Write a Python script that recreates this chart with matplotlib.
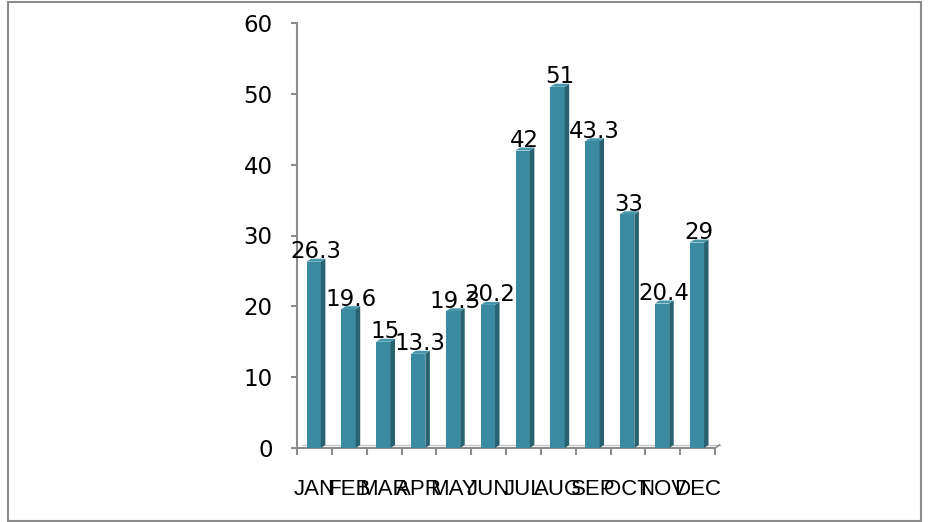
import numpy as np
import matplotlib
matplotlib.use("Agg")
from matplotlib import pyplot as plt
from matplotlib import font_manager
from matplotlib.patches import Polygon, Rectangle

months = ["JAN", "FEB", "MAR", "APR", "MAY", "JUN", "JUL", "AUG", "SEP", "OCT", "NOV", "DEC"]
values = [26.3, 19.6, 15, 13.3, 19.3, 20.2, 42, 51, 43.3, 33, 20.4, 29]
value_labels = ["26.3", "19.6", "15", "13.3", "19.3", "20.2", "42", "51", "43.3", "33", "20.4", "29"]
y_ticks = [0, 10, 20, 30, 40, 50, 60]

installed = set(f.name for f in font_manager.fontManager.ttflist)
narrow = "Liberation Sans Narrow" if "Liberation Sans Narrow" in installed else "Liberation Sans"

front_col = "#3a8ba2"
side_col = "#28616f"
top_col = "#4796ab"
axis_col = "#8c8c8c"

fig = plt.figure(figsize=(9.29, 5.22), dpi=100)
W, H = 929, 522
ax = fig.add_axes([297 / W, (H - 448) / H, (715 - 297) / W, (448 - 23) / H])

x = np.arange(len(months))
bw = 0.41
dx = 4.5 / 34.75    # depth of the 3d side, in category units
dy = 3 / 7.083      # rise of the 3d top, in value units

ax.bar(x - 0.02, values, width=bw, color=front_col, zorder=3)
for i, v in enumerate(values):
    left = x[i] - 0.02 - bw / 2
    right = left + bw
    ax.add_patch(Polygon([(right, 0), (right + dx, dy), (right + dx, v + dy), (right, v)],
                         closed=True, facecolor=side_col, edgecolor="none", zorder=3))
    ax.add_patch(Polygon([(left, v), (left + dx, v + dy), (right + dx, v + dy), (right, v)],
                         closed=True, facecolor=top_col, edgecolor="none", zorder=3))
    ax.annotate(value_labels[i], xy=(x[i], v), xytext=(1, 2.5), textcoords="offset points",
                ha="center", va="baseline", fontsize=16.5, family="DejaVu Sans", zorder=5)

ax.set_xlim(-0.5, 11.5)
ax.set_ylim(0, 60)

for s in ["top", "right", "bottom"]:
    ax.spines[s].set_visible(False)
ax.spines["left"].set_color(axis_col)
ax.spines["left"].set_linewidth(1.5)

# floor of the 3d chart
ax.plot([-0.5, 11.5], [0, 0], color=axis_col, lw=1.5, clip_on=False, zorder=2)
ax.plot([-0.5 + dx, 11.5 + dx], [dy, dy], color="#c8c8c8", lw=1.0, clip_on=False, zorder=2)
ax.plot([11.5, 11.5 + dx], [0, dy], color=axis_col, lw=1.2, clip_on=False, zorder=2)

ax.set_yticks(y_ticks)
ax.tick_params(axis="y", length=4.5, width=1.5, color=axis_col, pad=13, labelsize=16.5)
for t in ax.get_yticklabels():
    t.set_family("DejaVu Sans")

ax.set_xticks(x)
ax.set_xticklabels(months, fontsize=16, family=narrow)
ax.tick_params(axis="x", length=0, pad=22)
ax.set_xticks(np.arange(-0.5, 12, 1), minor=True)
ax.tick_params(axis="x", which="minor", length=5, width=1.5, color=axis_col, direction="out")

# chart border
fig.patches.append(Rectangle((8 / W, (H - 520.5) / H), (921 - 8) / W, (520.5 - 1.5) / H,
                             transform=fig.transFigure, fill=False, edgecolor=axis_col, lw=1.5))

fig.savefig("out.png", dpi=100)
